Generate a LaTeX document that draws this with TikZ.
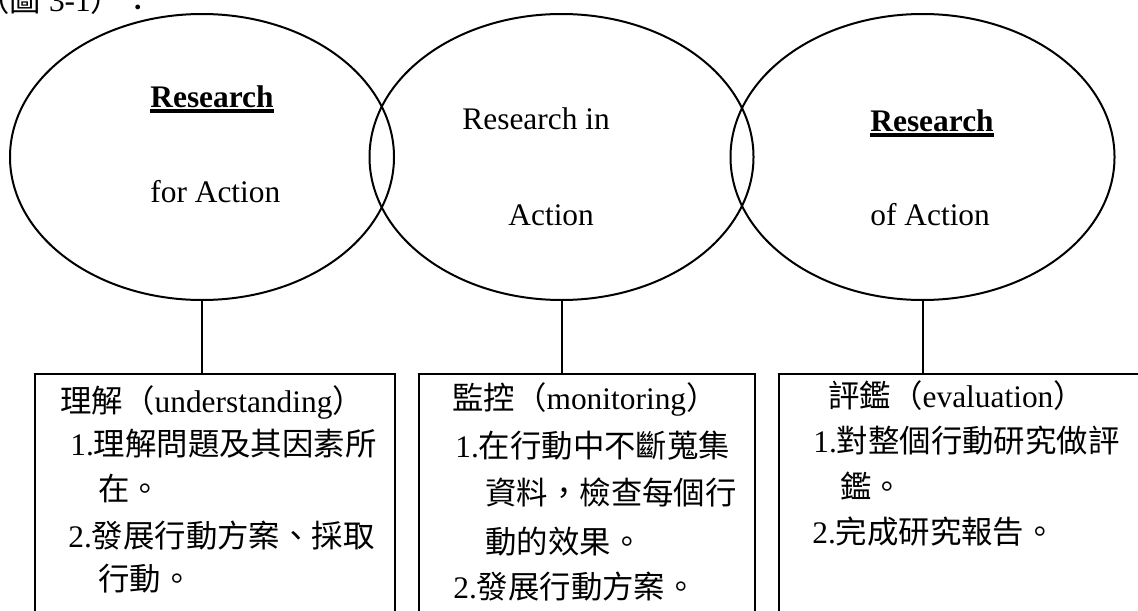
\documentclass[tikz,border=0pt]{standalone}
\usepackage{fontspec}
\setmainfont{Liberation Serif}
\newfontfamily\cjk{Noto Sans CJK TC}
\usetikzlibrary{shapes.geometric}
\newcommand{\zh}[1]{{\cjk #1}}
\newlength{\ulwd}
\newcommand{\ulword}[1]{\settowidth{\ulwd}{#1}\rlap{\rule[-2.85pt]{\ulwd}{1.6pt}}#1}
\tikzset{
  circ/.style={draw, ellipse, line width=1pt, minimum width=192pt, minimum height=143pt, inner sep=0pt},
  box/.style={draw, rectangle, line width=1pt, anchor=north west, minimum height=130pt, inner sep=0pt},
  txt/.style={anchor=base west, inner sep=0pt, font=\fontsize{15.7}{19}\selectfont}
}

\begin{document}
\begin{tikzpicture}[x=0.5pt, y=-0.5pt]
        \useasboundingbox (0,0) rectangle (1138,610);
        \clip (0,0) rectangle (1138,610);
        \node[txt] (cap) at (-22,12) {\zh{（圖} 3-1\zh{）：}};
        % ellipses
        \node[circ] (A) at (202,157) {};
        \node[circ] (B) at (561.5,157) {};
        \node[circ] (C) at (922.5,157) {};
        \node[txt] (A1) at (150,107) {\ulword{\textbf{Research}}};
        \node[txt] (A2) at (150,202) {for Action};
        \node[txt] (B1) at (462,129) {Research in};
        \node[txt] (B2) at (508,225) {Action};
        \node[txt] (C1) at (870,131) {\ulword{\textbf{Research}}};
        \node[txt] (C2) at (870,225) {of Action};
        % boxes
        \node[box, minimum width=180pt] (P) at (34,373) {};
        \node[box, minimum width=168pt] (Q) at (418,373) {};
        \node[box, minimum width=191pt] (R) at (778,373) {};
        \node[txt] (P1) at (60,412) {\zh{理解（}understanding\zh{）}};
        \node[txt] (P2) at (70,455) {1.\zh{理解問題及其因素所}};
        \node[txt] (P3) at (98,500) {\zh{在。}};
        \node[txt] (P4) at (68,547) {2.\zh{發展行動方案、採取}};
        \node[txt] (P5) at (98,590) {\zh{行動。}};
        \node[txt] (Q1) at (452,409) {\zh{監控（}monitoring\zh{）}};
        \node[txt] (Q2) at (455,457) {1.\zh{在行動中不斷蒐集}};
        \node[txt] (Q3) at (485,504) {\zh{資料，檢查每個行}};
        \node[txt] (Q4) at (485,553) {\zh{動的效果。}};
        \node[txt] (Q5) at (453,598) {2.\zh{發展行動方案。}};
        \node[txt] (R1) at (828,407) {\zh{評鑑（}evaluation\zh{）}};
        \node[txt] (R2) at (813,452) {1.\zh{對整個行動研究做評}};
        \node[txt] (R3) at (840,498) {\zh{鑑。}};
        \node[txt] (R4) at (812,543) {2.\zh{完成研究報告。}};
        % links
        \draw[line width=1pt] (A.south) -- (A.south |- P.north);
        \draw[line width=1pt] (B.south) -- (B.south |- Q.north);
        \draw[line width=1pt] (C.south) -- (C.south |- R.north);
\end{tikzpicture}
\end{document}
